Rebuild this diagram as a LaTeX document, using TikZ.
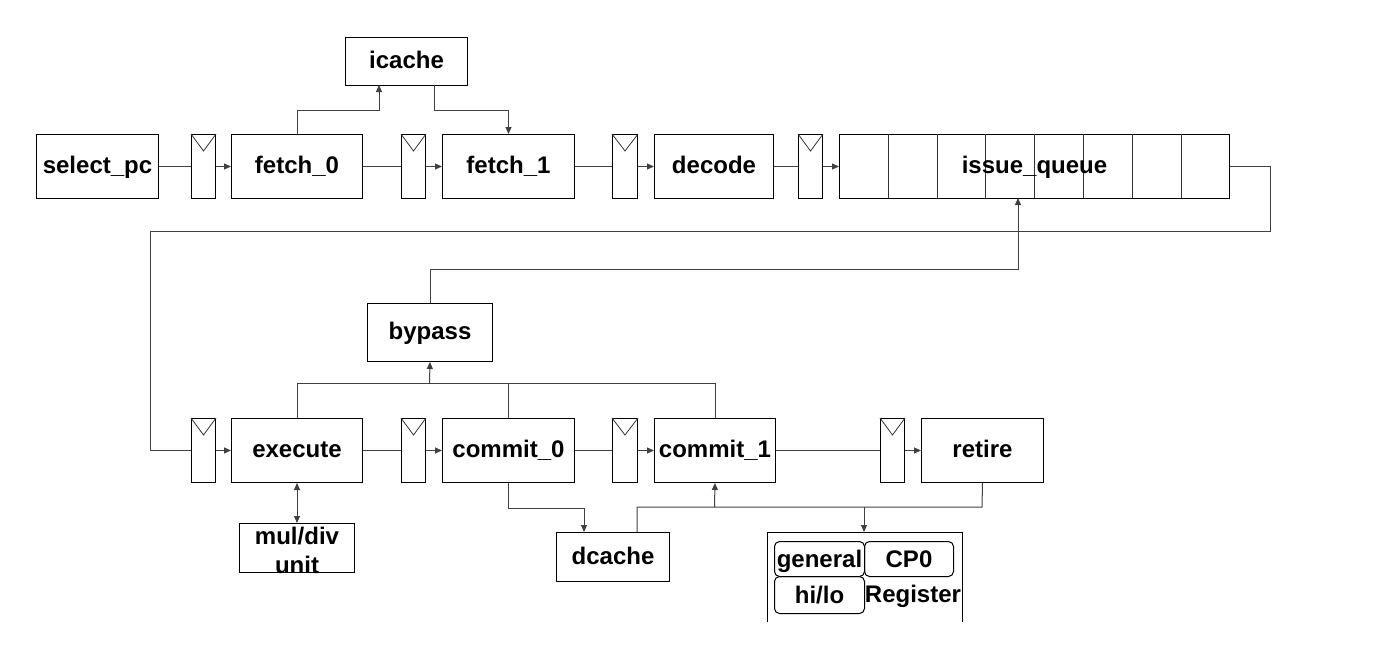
\documentclass[tikz,border=0pt]{standalone}
\usepackage{fontspec}
\setmainfont{Liberation Sans}
\usetikzlibrary{arrows.meta,calc}
\begin{document}
\begin{tikzpicture}[x=1pt,y=-1pt,
  every node/.style={font=\fontsize{24}{27}\selectfont\bfseries},
  box/.style={draw=black,line width=1pt,inner sep=0pt,anchor=north west,text height=18pt,text depth=4pt},
  preg/.style={box,minimum width=24pt,minimum height=64pt},
  rbox/.style={box,rounded corners=5pt,minimum width=90pt,text height=19pt,text depth=3pt},
  conn/.style={draw=black!75,line width=1pt},
  arr/.style={conn,-{Triangle[length=7pt,width=6pt]}},
  darr/.style={conn,{Triangle[length=7pt,width=6pt]}-{Triangle[length=7pt,width=6pt]}}]
\useasboundingbox (0,0) rectangle (1377,648);
% top row
\node[box,minimum width=122pt,minimum height=64pt] (sel) at (36,134) {select\_pc};
\node[preg] (r1) at (191,134) {};
\node[box,minimum width=131pt,minimum height=64pt] (f0) at (231,134) {fetch\_0};
\node[preg] (r2) at (401,134) {};
\node[box,minimum width=132pt,minimum height=64pt] (f1) at (442,134) {fetch\_1};
\node[preg,minimum width=25pt] (r3) at (612,134) {};
\node[box,minimum width=119pt,minimum height=64pt] (dec) at (654,134) {decode};
\node[preg] (r4) at (798,134) {};
\node[box,minimum width=390pt,minimum height=64pt] (iq) at (839,134) {};
\foreach \xx in {888,937,985,1034,1083,1132,1181}
  \draw[line width=1pt,black!80] (\xx,134) -- (\xx,198);
\node[text height=18pt,text depth=4pt,inner sep=0pt] at (iq.center) (iqt) {issue\_queue};
\node[box,minimum width=122pt,minimum height=48pt] (ic) at (345,37) {icache};
% bottom row
\node[preg] (r5) at (191,418) {};
\node[box,minimum width=131pt,minimum height=64pt] (ex) at (231,418) {execute};
\node[preg] (r6) at (401,418) {};
\node[box,minimum width=132pt,minimum height=64pt] (c0) at (442,418) {commit\_0};
\node[preg,minimum width=25pt] (r7) at (612,418) {};
\node[box,minimum width=121pt,minimum height=64pt] (c1) at (654,418) {commit\_1};
\node[preg] (r8) at (880,418) {};
\node[box,minimum width=122pt,minimum height=64pt] (ret) at (921,418) {retire};
\node[box,minimum width=125pt,minimum height=58pt] (byp) at (367,303) {bypass};
\node[draw=black,line width=1pt,inner sep=0pt,anchor=north west,minimum width=115pt,minimum height=49pt] (mul) at (239,523) {};
\node[align=center,inner sep=0pt,font=\fontsize{24}{29}\selectfont\bfseries] (mult) at ($(mul.center)+(0,2)$) {mul/div\\unit};
\node[box,minimum width=113pt,minimum height=49pt] (dc) at (556,532) {dcache};
% register file
\node[inner sep=0pt,anchor=north west,minimum width=195pt,minimum height=90pt] (rf) at (767,532) {};
\draw[line width=1pt] (rf.south west) -- (rf.north west) -- (rf.north east) -- (rf.south east);
\node[rbox,minimum height=35pt] (gen) at (774,541) {general};
\node[rbox,minimum width=89pt,minimum height=35pt] (cp0) at (864,541) {CP0};
\node[rbox,minimum height=37pt] (hilo) at (774,576) {hi/lo};
\node[text height=19pt,text depth=3pt,inner sep=0pt] (regt) at (913,594.5) {Register};
% V marks on pipeline registers
\foreach \r in {r1,r2,r3,r4,r5,r6,r7,r8}
  \draw[line width=0.8pt,black!80] (\r.north west) -- ($(\r.north)+(0,17)$) -- (\r.north east);
% coordinates
\coordinate (lpA) at (1270,166);
\coordinate (lpB) at (1270,231);
\coordinate (lpC) at (150,231);
\coordinate (lpD) at (150,450);
\coordinate (icin) at (379,85);
\coordinate (icout) at (434,85);
\coordinate (iqin) at (1018,198);
\coordinate (bb) at (429.5,383);
\coordinate (dcin) at (584,532);
\coordinate (dcout) at (637,532);
\coordinate (busL) at (637,507);
\coordinate (busR) at (982,507);
\coordinate (busC) at (714.5,507);
\coordinate (busF) at (864,507);
\coordinate (rfin) at (864,532);
% top row connections
\draw[conn] (sel) -- (r1);
\draw[arr] (r1) -- (f0);
\draw[conn] (f0) -- (r2);
\draw[arr] (r2) -- (f1);
\draw[conn] (f1) -- (r3);
\draw[arr] (r3) -- (dec);
\draw[conn] (dec) -- (r4);
\draw[arr] (r4) -- (iq);
\draw[arr] (f0.north) -- ++(0,-24) -| (icin);
\draw[arr] (icout) -- ++(0,25) -| (f1.north);
% loop back
\draw[conn] (iq.east |- lpA) -- (lpA) -- (lpB) -- (lpC) -- (lpD) -- (r5.west |- lpD);
% bottom row
\draw[arr] (r5) -- (ex);
\draw[conn] (ex) -- (r6);
\draw[arr] (r6) -- (c0);
\draw[conn] (c0) -- (r7);
\draw[arr] (r7) -- (c1);
\draw[conn] (c1) -- (r8);
\draw[arr] (r8) -- (ret);
% bypass
\draw[conn] (ex.north) -- ++(0,-35) -| (c1.north);
\draw[conn] (c0.north) -- ++(0,-35);
\draw[arr] (bb) -- (byp.south);
\draw[arr] (byp.north) -- ++(0,-34) -| (iqin);
% mul/div
\draw[darr] (ex.south) -- (mul.north);
% dcache and bus
\draw[arr] (c0.south) -- ++(0,25) -| (dcin);
\draw[conn] (dcout) -- (busL) -- (busR) -- (ret.south);
\draw[arr] (busC) -- (c1.south);
\draw[arr] (busF) -- (rfin);
\end{tikzpicture}
\end{document}
